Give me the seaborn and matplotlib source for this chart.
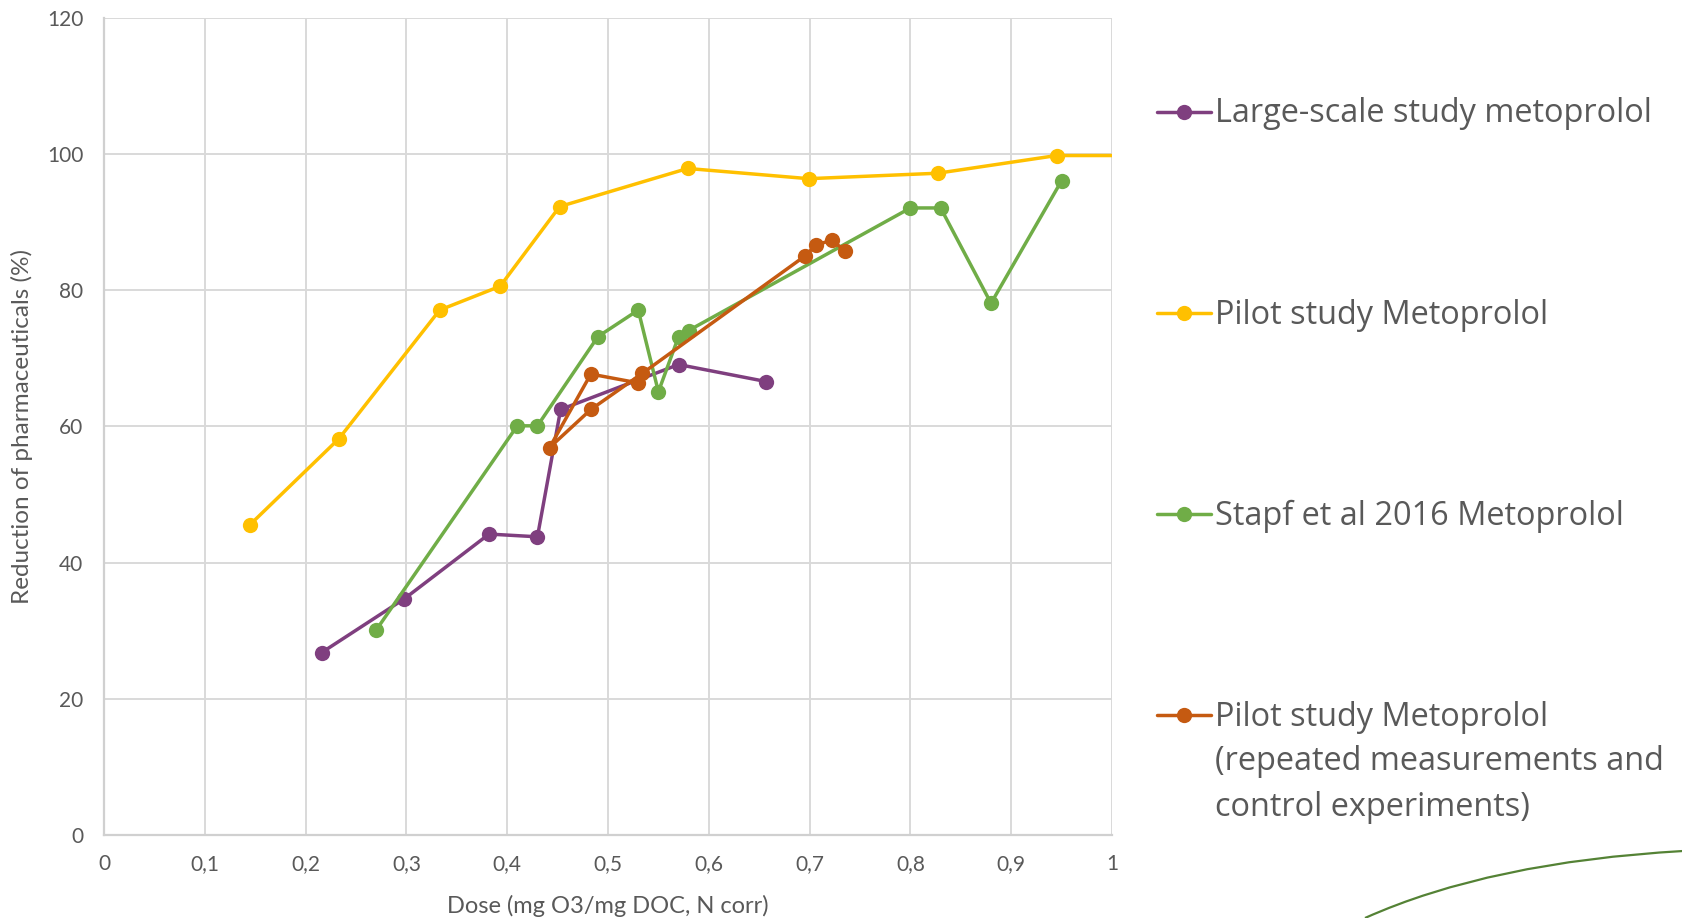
import numpy as np
import pandas as pd
import seaborn as sns
import matplotlib.pyplot as plt
from matplotlib.lines import Line2D
from matplotlib.path import Path
from matplotlib.patches import PathPatch

# Series values: dose (mg O3/mg DOC, N corr) and reduction (%)
large_x = [0.216, 0.298, 0.382, 0.430, 0.453, 0.570, 0.657]
large_y = [26.8, 34.7, 44.2, 43.8, 62.5, 69.1, 66.6]

pilot_x = [0.145, 0.233, 0.333, 0.393, 0.452, 0.579, 0.699, 0.827, 0.945, 1.05]
pilot_y = [45.6, 58.2, 77.1, 80.6, 92.3, 97.9, 96.4, 97.2, 99.8, 99.8]

stapf_x = [0.27, 0.41, 0.43, 0.49, 0.53, 0.55, 0.57, 0.58, 0.80, 0.83, 0.88, 0.95]
stapf_y = [30.1, 60.1, 60.1, 73.2, 77.1, 65.1, 73.2, 74.1, 92.1, 92.1, 78.1, 96.1]

repeat_x = [0.530, 0.483, 0.442, 0.483, 0.534, 0.695, 0.706, 0.722, 0.735]
repeat_y = [66.4, 67.7, 56.9, 62.5, 67.8, 85.0, 86.6, 87.4, 85.8]

series_names = [
    "Large-scale study metoprolol",
    "Pilot study Metoprolol",
    "Stapf et al 2016 Metoprolol",
    "Pilot study Metoprolol\n(repeated measurements and\ncontrol experiments)",
]
series_colors = ["#7F3F7F", "#FFC000", "#70AD47", "#C55A11"]

x_ticks = [0, 0.1, 0.2, 0.3, 0.4, 0.5, 0.6, 0.7, 0.8, 0.9, 1.0]
x_tick_labels = ["0", "0,1", "0,2", "0,3", "0,4", "0,5", "0,6", "0,7", "0,8", "0,9", "1"]
y_ticks = [0, 20, 40, 60, 80, 100, 120]

frames = []
for name, xs, ys in zip(series_names,
                        [large_x, pilot_x, stapf_x, repeat_x],
                        [large_y, pilot_y, stapf_y, repeat_y]):
    n = len(xs)
    frames.append(pd.DataFrame({"dose": xs, "reduction": ys,
                                "series": [name] * n, "order": range(n)}))
df = pd.concat(frames, ignore_index=True)

sns.set_theme(style="white")
plt.rcParams['font.family'] = ['Lato', 'DejaVu Sans']
text_grey = "#595959"
grid_grey = "#D9D9D9"

fig = plt.figure(figsize=(16.83, 9.18), dpi=100)
ax = fig.add_axes([104 / 1683, 1 - 835 / 918, (1112 - 104) / 1683, (835 - 18) / 918])

palette = dict(zip(series_names, series_colors))
sns.lineplot(data=df, x="dose", y="reduction", hue="series", units="series",
             estimator=None, sort=False, palette=palette, marker="o",
             markersize=11, markeredgewidth=0, linewidth=2.5,
             legend=False, ax=ax)
for line in ax.lines:
    line.set_solid_joinstyle("round")

ax.set_xlim(0, 1)
ax.set_ylim(0, 120)
ax.set_xticks(x_ticks)
ax.set_xticklabels(x_tick_labels)
ax.set_yticks(y_ticks)
ax.grid(True, color=grid_grey, linewidth=1.4)
ax.set_axisbelow(True)
for side in ["top", "right"]:
    ax.spines[side].set_visible(False)
for side in ["left", "bottom"]:
    ax.spines[side].set_color("#D0D0D0")
    ax.spines[side].set_linewidth(1.6)
ax.tick_params(axis="both", length=0, labelsize=15, colors=text_grey)
ax.tick_params(axis="y", pad=15)
ax.tick_params(axis="x", pad=14)
ax.set_xlabel("Dose (mg O3/mg DOC, N corr)", fontsize=17, color=text_grey, labelpad=15)
ax.set_ylabel("Reduction of pharmaceuticals (%)", fontsize=17.5, color=text_grey, labelpad=10)

# Legend drawn beside the plot, one row per series
W, H = 1683, 918
row_y = [112, 313, 514, 715]
for name, color, ypx in zip(series_names, series_colors, row_y):
    yf = 1 - ypx / H
    fig.add_artist(Line2D([1157 / W, 1211 / W], [yf, yf], color=color,
                          linewidth=2.5, transform=fig.transFigure))
    fig.add_artist(Line2D([1184 / W], [yf], color=color, marker="o",
                          markersize=11, markeredgewidth=0,
                          transform=fig.transFigure))
    for i, part in enumerate(name.split("\n")):
        fig.text(1215 / W, 1 - (ypx + 2 + i * 45) / H, part, fontsize=23.4,
                 color=text_grey, family=['Open Sans', 'DejaVu Sans'],
                 va="center", ha="left")

# Decorative green arc in the lower right corner
verts = [(1365 / W, 0.0), (1490 / W, 1 - 862 / H), (1683 / W, 1 - 851 / H)]
arc = PathPatch(Path(verts, [Path.MOVETO, Path.CURVE3, Path.CURVE3]),
                facecolor="none", edgecolor="#548235", linewidth=1.6,
                transform=fig.transFigure)
fig.add_artist(arc)

fig.savefig("out.png", dpi=100)
